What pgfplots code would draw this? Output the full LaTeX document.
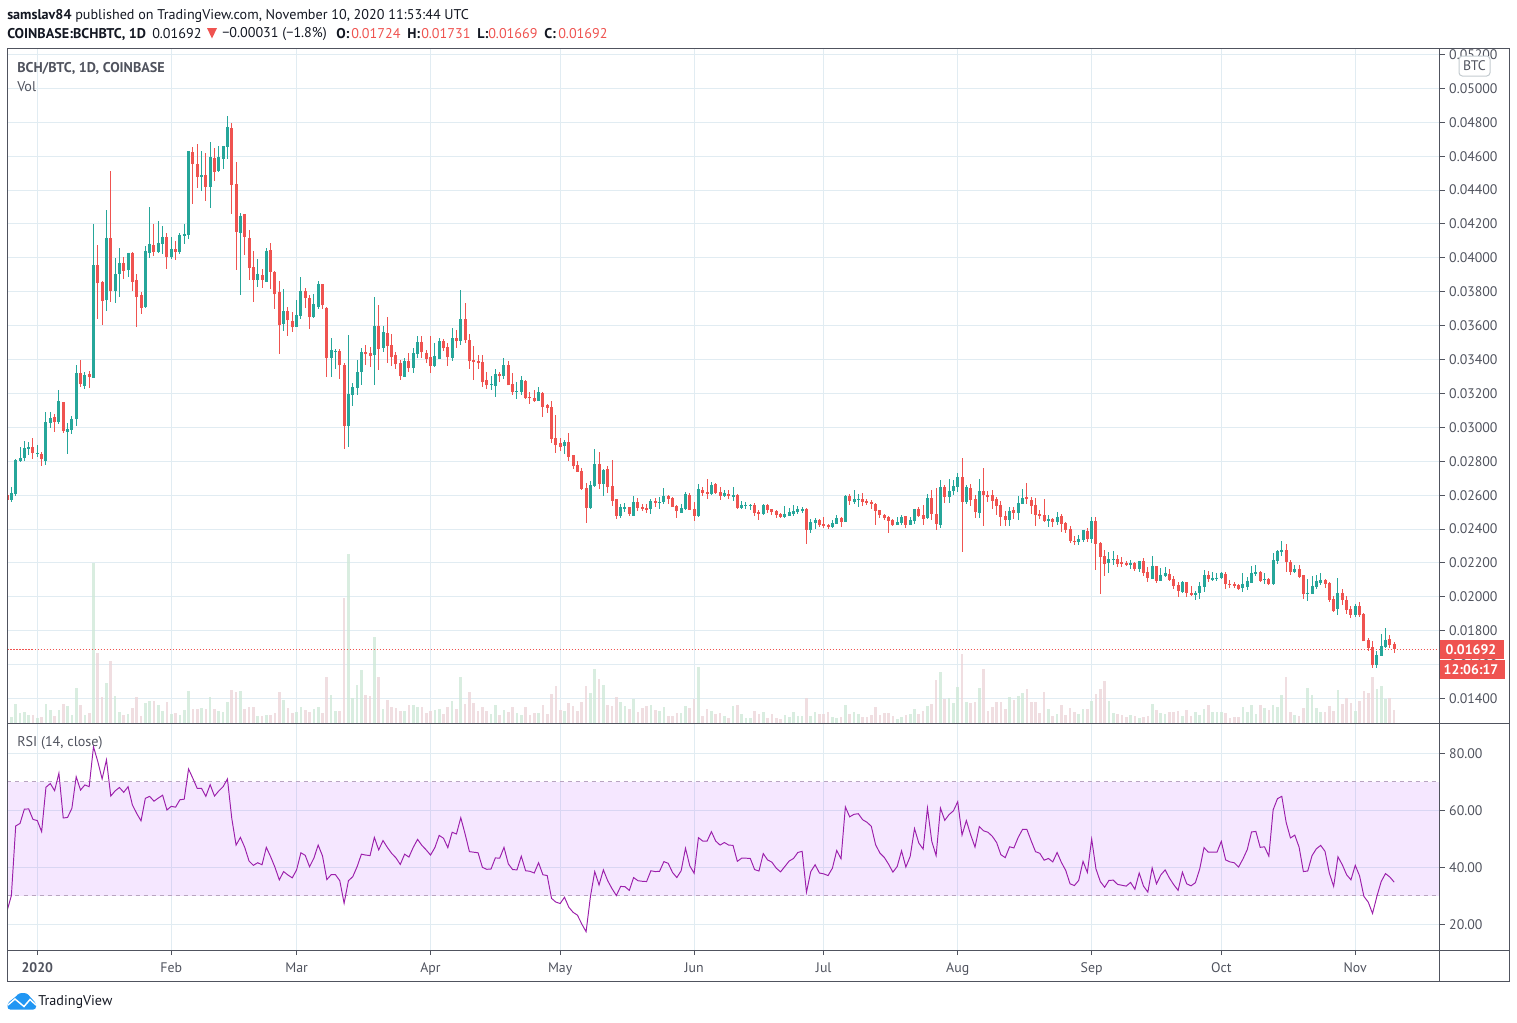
\documentclass[border=0pt]{standalone}
\usepackage{fontspec}
\setmainfont{PT Sans}
\usepackage{pgfplots}
\usepackage{pgfplotstable}
\pgfplotsset{compat=1.18}
\definecolor{cg}{HTML}{26A69A}
\definecolor{cr}{HTML}{EF5350}
\definecolor{vg}{HTML}{CFE9D8}
\definecolor{vr}{HTML}{ECD6DA}
\definecolor{gridc}{HTML}{E1ECF2}
\definecolor{axc}{HTML}{50535E}
\definecolor{txt}{HTML}{131722}
\definecolor{rsi}{HTML}{9C1FAB}
\definecolor{band}{HTML}{9915FF}
\definecolor{dash}{HTML}{B8A5C0}
\definecolor{tvblue}{HTML}{2196F3}
% d = days from 1 Jan 2020; o h l c in units of 0.001 BTC; v = relative volume (no scale is shown)
\pgfplotstableread{
d o h l c v
-7 26.02 26.02 25.72 25.72 4
-6 25.72 26.49 25.62 26.13 6
-5 26.07 28.13 25.98 28.07 19
-4 28.02 28.84 27.96 28.19 10
-3 28.19 29.19 28.02 28.78 11
-2 28.72 29.13 28.37 28.84 8
-1 28.84 29.37 28.13 28.49 8
0 28.43 28.96 28.25 28.49 5
1 28.43 28.55 27.72 28.13 6
2 28.02 30.90 27.78 30.31 19
3 30.25 30.90 29.96 30.55 13
4 30.60 30.78 29.72 30.31 7
5 30.31 32.19 30.19 31.55 13
6 31.49 31.49 29.66 29.78 19
7 29.72 30.25 28.43 29.90 17
8 29.84 30.66 29.60 30.49 8
9 30.49 33.66 30.07 33.19 35
10 33.19 33.96 32.37 32.55 18
11 32.43 33.25 32.25 33.07 8
12 33.13 33.31 32.31 32.96 10
13 32.90 42.02 32.90 39.55 160
14 39.55 40.78 36.37 38.49 70
15 38.55 38.66 36.02 37.43 26
16 37.49 42.84 36.84 41.19 40
17 41.19 45.13 37.37 38.07 62
18 38.07 40.02 37.31 39.02 27
19 39.07 40.60 37.72 39.72 11
20 39.72 40.07 38.78 39.25 8
21 39.31 40.31 38.90 40.31 9
22 40.31 40.37 38.02 38.60 15
23 38.72 39.02 35.90 37.72 26
24 37.78 37.96 36.66 37.07 7
25 37.13 40.72 37.07 40.43 20
26 40.31 43.02 40.02 40.84 22
27 40.78 42.02 40.13 40.37 22
28 40.37 42.19 40.31 40.90 18
29 40.84 41.90 40.25 41.25 12
30 41.25 41.49 39.37 40.07 21
31 40.07 41.25 39.96 40.55 9
32 40.55 41.02 39.90 40.37 10
33 40.37 41.49 40.25 41.37 8
34 41.31 42.02 40.84 41.43 13
35 41.37 46.31 41.13 46.31 32
36 46.25 46.55 43.19 45.55 14
37 45.55 46.72 44.13 44.78 14
38 44.78 46.31 43.96 44.90 15
39 44.90 46.19 43.37 44.19 14
40 44.19 46.84 42.96 45.96 26
41 45.90 46.49 44.55 45.07 14
42 45.13 46.60 45.07 45.96 12
43 45.84 46.60 45.25 46.60 11
44 46.55 48.37 45.84 47.72 21
45 47.66 47.96 42.60 44.31 33
46 44.37 45.66 39.31 41.55 31
47 41.49 42.66 37.78 42.49 32
48 42.60 42.60 40.19 41.25 14
49 41.19 41.66 38.72 39.43 16
50 39.49 40.43 37.37 38.72 16
51 38.72 39.96 38.31 39.07 7
52 38.96 39.37 38.25 38.72 7
53 38.60 40.60 38.55 40.43 8
54 40.49 40.90 38.19 39.19 8
55 39.19 39.25 36.96 37.84 10
56 37.96 38.66 34.31 36.02 31
57 36.07 38.19 35.66 36.84 23
58 36.84 37.13 35.37 36.31 15
59 36.25 36.78 35.60 35.90 10
60 35.90 37.49 35.90 36.60 11
61 36.55 38.90 36.37 38.07 16
62 38.07 38.25 37.02 37.66 13
63 37.66 37.78 35.78 36.49 11
64 36.49 37.84 36.43 37.25 14
65 37.13 38.66 36.96 38.43 16
66 38.43 38.43 36.96 37.19 10
67 37.07 37.13 32.96 34.07 46
68 34.07 35.25 32.96 34.55 28
69 34.43 34.60 33.43 34.49 12
70 34.49 34.60 32.84 33.66 12
71 33.66 33.78 28.72 30.07 125
72 30.07 35.43 28.84 31.96 169
73 31.90 32.60 31.25 32.37 25
74 32.31 33.96 31.90 33.25 38
75 33.25 34.66 32.48 34.43 53
76 34.43 34.84 33.66 34.31 28
77 34.37 34.72 33.54 34.19 27
78 34.25 37.72 32.48 35.96 86
79 35.96 37.19 33.37 34.60 46
80 34.66 35.96 34.43 35.60 14
81 35.54 36.54 33.78 34.78 23
82 34.84 35.48 33.60 34.13 16
83 34.25 34.43 33.43 33.72 15
84 33.78 33.96 32.78 33.01 12
85 32.96 34.07 32.96 33.90 12
86 33.90 34.37 33.25 33.48 18
87 33.48 34.66 33.19 34.37 18
88 34.31 35.37 34.07 35.01 16
89 35.01 35.37 34.07 34.43 16
90 34.37 34.54 33.78 34.01 10
91 34.13 35.37 33.19 33.60 12
92 33.60 34.96 33.54 34.19 13
93 34.01 35.25 34.01 35.07 14
94 35.07 35.19 34.48 34.66 9
95 34.72 34.96 33.60 34.13 16
96 34.07 35.84 33.90 35.25 22
97 35.25 35.72 34.66 35.07 14
98 35.07 38.13 34.84 36.37 46
99 36.37 37.31 34.96 35.13 19
100 35.13 35.48 33.43 33.90 31
101 33.96 34.78 32.78 33.84 20
102 33.90 34.25 33.43 33.78 12
103 33.84 34.25 32.37 32.66 16
104 32.78 33.25 32.25 32.48 12
105 32.48 33.01 32.19 32.54 9
106 32.43 33.43 31.78 33.13 18
107 33.13 33.25 32.66 33.01 8
108 33.01 34.07 32.84 33.66 13
109 33.66 33.90 32.48 32.48 11
110 32.54 33.19 31.90 32.07 16
111 32.07 32.66 31.66 32.13 10
112 32.07 33.01 31.90 32.78 8
113 32.72 32.78 31.66 31.72 16
114 31.78 32.07 31.37 31.72 8
115 31.72 32.19 31.48 31.54 10
116 31.54 32.37 31.54 32.07 10
117 32.01 32.07 30.60 31.19 18
118 31.31 31.37 30.84 31.13 9
119 31.19 31.54 29.07 29.31 29
120 29.37 30.72 28.48 28.96 37
121 29.07 29.37 28.60 28.84 13
122 28.90 29.25 28.43 29.13 12
123 29.13 29.66 28.01 28.25 20
124 28.37 28.37 27.54 27.72 17
125 27.78 28.01 27.37 27.37 12
126 27.43 27.60 26.31 26.37 21
127 26.43 26.72 24.37 25.25 37
128 25.25 26.84 25.19 26.60 30
129 26.54 28.72 26.48 27.84 54
130 27.84 28.54 26.37 26.66 44
131 26.66 27.54 25.96 27.48 38
132 27.54 27.72 26.13 26.48 18
133 26.54 28.07 25.37 25.66 17
134 25.78 25.78 24.60 24.78 26
135 24.78 25.48 24.66 25.31 21
136 25.19 25.54 25.01 25.31 17
137 25.31 25.31 24.78 24.90 14
138 24.78 25.96 24.78 25.60 24
139 25.60 25.84 25.07 25.25 11
140 25.31 25.48 25.07 25.19 15
141 25.25 25.48 24.96 25.13 17
142 25.19 25.78 24.90 25.66 18
143 25.66 25.84 25.31 25.54 13
144 25.54 25.90 25.19 25.58 12
145 25.60 26.43 25.48 25.96 16
146 25.96 26.01 25.48 25.78 7
147 25.84 25.90 25.31 25.31 7
148 25.37 25.43 24.66 25.07 10
149 24.96 25.49 24.96 25.25 10
150 25.19 26.19 25.13 26.07 17
151 26.01 26.13 25.13 25.13 15
152 25.19 25.60 24.49 24.78 24
153 24.78 26.66 24.72 26.37 56
154 26.31 26.49 25.96 26.13 7
155 26.19 26.96 25.78 26.07 14
156 26.07 26.78 26.01 26.60 12
157 26.66 26.72 26.07 26.13 9
158 26.19 26.49 25.72 25.96 10
159 25.96 26.31 25.90 26.13 7
160 26.07 26.31 25.78 25.96 5
161 25.90 26.49 25.66 26.01 17
162 26.01 26.07 25.19 25.25 18
163 25.25 25.66 25.19 25.43 9
164 25.37 25.60 25.19 25.43 5
165 25.37 25.49 25.13 25.43 5
166 25.43 25.54 24.78 24.96 12
167 25.01 25.13 24.54 24.90 9
168 24.90 25.49 24.84 25.43 11
169 25.43 25.49 24.96 25.13 5
170 25.19 25.19 24.84 25.01 9
171 25.07 25.13 24.66 24.84 5
172 24.90 24.96 24.66 24.72 4
173 24.72 25.37 24.66 24.90 8
174 24.78 25.25 24.78 25.01 6
175 24.90 25.43 24.78 25.07 11
176 25.01 25.37 24.90 25.19 7
177 25.07 25.31 24.96 25.19 7
178 25.19 25.25 23.13 23.96 25
179 23.96 24.60 23.78 24.43 7
180 24.37 24.66 24.01 24.54 11
181 24.54 24.60 24.13 24.25 9
182 24.31 24.72 24.07 24.19 9
183 24.25 24.31 24.01 24.13 11
184 24.13 24.54 24.07 24.37 6
185 24.31 24.84 24.31 24.66 5
186 24.66 24.72 24.13 24.43 6
187 24.43 26.01 24.43 25.96 18
188 25.96 26.07 25.43 25.66 9
189 25.60 26.31 25.49 25.78 11
190 25.72 26.07 25.31 25.78 9
191 25.78 26.13 25.37 25.60 6
192 25.66 25.78 25.43 25.54 6
193 25.60 25.72 25.19 25.49 8
194 25.49 25.54 24.25 25.07 16
195 25.13 25.13 24.66 24.84 8
196 24.84 24.90 24.54 24.66 10
197 24.72 24.78 23.78 24.49 10
198 24.54 24.60 24.19 24.25 7
199 24.25 24.72 24.25 24.43 4
200 24.37 24.84 24.25 24.72 6
201 24.78 24.78 24.07 24.25 8
202 24.25 24.72 24.25 24.54 9
203 24.49 25.19 24.31 25.19 14
204 25.19 25.31 24.72 24.78 9
205 24.84 25.43 24.25 24.60 12
206 24.66 26.07 24.60 25.84 17
207 25.84 26.31 24.54 24.90 19
208 24.90 26.43 23.96 24.31 43
209 24.25 26.90 24.07 26.49 51
210 26.49 26.60 25.54 25.90 24
211 25.90 26.96 25.54 26.25 25
212 26.25 26.90 26.01 26.54 20
213 26.49 27.31 26.19 27.07 36
214 27.07 28.19 22.66 25.60 69
215 25.60 26.60 25.49 26.49 21
216 26.43 26.66 25.37 25.72 20
217 25.78 26.01 24.66 25.01 21
218 24.96 26.96 24.66 26.25 35
219 26.25 27.60 24.19 26.01 54
220 26.01 26.25 25.60 25.90 12
221 26.01 26.31 25.19 25.66 16
222 25.78 25.90 24.84 25.37 21
223 25.43 25.66 24.19 24.72 21
224 24.78 25.07 24.19 24.54 14
225 24.54 25.31 24.19 25.07 26
226 25.13 25.31 24.60 24.96 23
227 24.96 25.96 24.54 25.54 27
228 25.49 26.37 25.49 25.84 30
229 25.90 26.72 25.49 25.78 34
230 25.72 25.92 24.90 25.37 21
231 25.43 25.84 24.19 24.84 21
232 24.90 25.13 24.60 24.78 10
233 24.84 25.78 24.43 24.48 31
234 24.48 24.84 24.13 24.60 14
235 24.60 24.66 24.13 24.43 7
236 24.43 25.01 24.25 24.72 9
237 24.78 24.90 23.84 24.31 18
238 24.37 24.43 23.78 23.96 8
239 24.01 24.19 23.19 23.31 15
240 23.31 23.60 23.07 23.25 11
241 23.25 23.66 23.07 23.43 9
242 23.37 23.96 23.25 23.96 14
243 23.90 24.07 23.25 23.43 14
244 23.43 24.72 23.19 24.48 22
245 24.48 24.72 21.60 23.13 29
246 23.19 23.25 20.19 22.37 34
247 22.43 22.78 21.25 21.96 42
248 22.01 22.66 21.43 22.25 22
249 22.19 22.72 21.90 22.25 10
250 22.25 22.48 21.78 21.96 9
251 22.07 22.37 21.78 21.96 8
252 22.01 22.13 21.84 21.90 6
253 21.90 22.19 21.66 22.01 8
254 22.01 22.07 21.54 21.66 7
255 21.66 22.13 21.48 22.13 5
256 22.13 22.31 21.25 21.43 6
257 21.48 21.78 20.90 21.13 7
258 21.07 22.43 21.07 21.84 19
259 21.84 21.84 20.84 20.96 13
260 20.96 21.72 20.96 21.31 10
261 21.25 21.78 21.19 21.43 9
262 21.37 21.66 20.96 21.01 11
263 21.07 21.25 20.48 20.66 11
264 20.72 20.90 20.01 20.37 12
265 20.31 20.96 20.25 20.90 7
266 20.90 20.90 20.01 20.25 13
267 20.25 20.66 20.07 20.13 7
268 20.13 20.37 19.84 20.25 11
269 20.25 20.90 19.90 20.66 8
270 20.60 21.60 20.31 21.31 14
271 21.31 21.54 20.90 21.07 18
272 21.01 21.48 20.96 21.13 11
273 21.07 21.43 20.96 21.13 11
274 21.13 21.48 21.07 21.43 11
275 21.37 21.48 20.48 20.78 10
276 20.78 21.01 20.54 20.72 5
277 20.78 20.90 20.54 20.66 6
278 20.72 20.78 20.43 20.48 6
279 20.54 21.43 20.31 20.78 16
280 20.60 21.19 20.43 20.96 11
281 20.84 21.84 20.84 21.43 18
282 21.37 21.90 21.25 21.48 9
283 21.48 21.54 20.90 20.96 18
284 21.01 21.43 20.78 21.07 15
285 21.07 21.13 20.72 20.78 13
286 20.78 22.60 20.72 22.19 18
287 22.13 22.78 21.96 22.72 16
288 22.66 23.31 22.43 22.78 28
289 22.78 23.13 21.48 22.07 46
290 22.07 22.19 21.31 21.48 11
291 21.48 21.90 21.43 21.66 8
292 21.66 21.90 21.13 21.19 7
293 21.31 21.31 19.90 20.19 15
294 20.19 21.07 19.78 20.25 35
295 20.19 21.25 20.19 20.66 28
296 20.60 21.31 20.48 20.96 15
297 20.84 21.43 20.72 21.01 11
298 21.01 21.07 20.54 20.78 11
299 20.84 20.90 19.72 19.84 17
300 19.90 20.07 19.13 19.19 12
301 19.31 21.13 18.96 20.25 33
302 20.25 20.48 19.54 19.84 19
303 19.84 20.07 19.01 19.25 25
304 19.31 19.48 18.78 18.96 20
305 18.96 19.60 18.84 19.48 12
306 19.48 19.72 18.84 18.96 22
307 19.01 19.07 17.37 17.37 32
308 17.43 17.60 16.78 17.01 30
309 17.07 17.37 15.78 15.96 46
310 15.96 16.78 15.78 16.60 34
311 16.54 17.84 16.54 17.13 37
312 17.07 18.19 16.96 17.48 24
313 17.54 17.78 16.96 17.19 25
314 17.24 17.31 16.69 16.92 13
}\ohlc
\pgfplotsset{
  pane/.style={scale only axis, width=1074pt, xmin=-6.9, xmax=324.5, clip=true,
    axis line style={draw=none},
    xtick={0,31,60,91,121,152,182,213,244,274,305},
    grid=major, major grid style={color=gridc, line width=.75pt},
    ytick pos=right, tick align=outside, major tick length=3.75pt,
    tick style={color=axc, line width=.75pt},
    tick label style={color=axc, font=\fontsize{10.4}{12}\selectfont},
    yticklabel style={anchor=west, xshift=0pt},
    xtick pos=bottom},
  over/.style={scale only axis, width=1074pt, xmin=-6.9, xmax=324.5, hide axis, clip=true}
}
\begin{document}
\begin{tikzpicture}
\path[use as bounding box] (0pt,0pt) rectangle (1137.75pt,-766.5pt);

% price pane: grid and price ticks
\begin{axis}[pane, at={(5.625pt,-542.25pt)}, anchor=south west, height=505.875pt,
  ymin=12.56, ymax=52.35,
  xticklabels={}, xtick style={draw=none},
  ytick={14,16,18,20,22,24,26,28,30,32,34,36,38,40,42,44,46,48,50,52},
  yticklabels={0.01400,0.01600,0.01800,0.02000,0.02200,0.02400,0.02600,0.02800,0.03000,0.03200,0.03400,0.03600,0.03800,0.04000,0.04200,0.04400,0.04600,0.04800,0.05000,0.05200}]
\end{axis}

% volume
\begin{axis}[over, at={(5.625pt,-542.25pt)}, anchor=south west, height=505.875pt, ymin=0, ymax=674.5]
\addplot[ycomb, unbounded coords=discard, draw=vg, line width=2pt, opacity=.8, mark=none]
  table[x expr={\thisrow{c}>=\thisrow{o} ? \thisrow{d} : nan}, y=v] {\ohlc};
\addplot[ycomb, unbounded coords=discard, draw=vr, line width=2pt, opacity=.8, mark=none]
  table[x expr={\thisrow{c}<\thisrow{o} ? \thisrow{d} : nan}, y=v] {\ohlc};
\end{axis}

% candles
\begin{axis}[over, at={(5.625pt,-542.25pt)}, anchor=south west, height=505.875pt, ymin=12.56, ymax=52.35]
\addplot[color=cr, dash pattern=on .9pt off 1.35pt, line width=.75pt, mark=none] coordinates {(-6.9,16.92)(324.5,16.92)};
% wicks
\addplot[draw=none, mark=none, unbounded coords=discard, error bars/.cd, y dir=both, y explicit, error mark=none,
    error bar style={draw=cg, line width=.75pt}]
  table[x expr={\thisrow{c}>=\thisrow{o} ? \thisrow{d} : nan}, y=c,
        y error plus expr=\thisrow{h}-\thisrow{c}, y error minus expr=\thisrow{c}-\thisrow{l}] {\ohlc};
\addplot[draw=none, mark=none, unbounded coords=discard, error bars/.cd, y dir=both, y explicit, error mark=none,
    error bar style={draw=cr, line width=.75pt}]
  table[x expr={\thisrow{c}<\thisrow{o} ? \thisrow{d} : nan}, y=c,
        y error plus expr=\thisrow{h}-\thisrow{c}, y error minus expr=\thisrow{c}-\thisrow{l}] {\ohlc};
% bodies
\addplot[draw=none, mark=none, unbounded coords=discard, error bars/.cd, y dir=minus, y explicit, error mark=none,
    error bar style={draw=cg, line width=2.25pt}]
  table[x expr={\thisrow{c}>=\thisrow{o} ? \thisrow{d} : nan}, y=c,
        y error minus expr=\thisrow{c}-\thisrow{o}] {\ohlc};
\addplot[draw=none, mark=none, unbounded coords=discard, error bars/.cd, y dir=plus, y explicit, error mark=none,
    error bar style={draw=cr, line width=2.25pt}]
  table[x expr={\thisrow{c}<\thisrow{o} ? \thisrow{d} : nan}, y=c,
        y error plus expr=\thisrow{o}-\thisrow{c}] {\ohlc};
\end{axis}

% RSI pane
\begin{axis}[pane, at={(5.625pt,-712.5pt)}, anchor=south west, height=170.25pt,
  ymin=10.98, ymax=90.63,
  xticklabels={\textbf{2020},Feb,Mar,Apr,May,Jun,Jul,Aug,Sep,Oct,Nov},
  xticklabel style={yshift=-2.5pt},
  ytick={20,40,60,80}, yticklabels={20.00,40.00,60.00,80.00}]
\addplot[draw=none, fill=band, fill opacity=.1, forget plot] coordinates {(-6.9,30)(-6.9,70)(324.5,70)(324.5,30)} --cycle;
\addplot[color=dash, dashed, line width=.75pt, mark=none] coordinates {(-6.9,70)(324.5,70)};
\addplot[color=dash, dashed, line width=.75pt, mark=none] coordinates {(-6.9,30)(324.5,30)};
\addplot[color=rsi, line width=.72pt, mark=none] coordinates {
(-7,24.7)(-6,30.1)(-5,54.5)(-4,55.4)(-3,60.4)(-2,60.5)(-1,56.8)(0,56.4)(1,52.5)(2,68.1)
(3,69.4)(4,66.9)(5,73)(6,57.3)(7,57.5)(8,60.7)(9,71.8)(10,67.1)(11,68.9)(12,68.3)
(13,82.3)(14,77.1)(15,71)(16,77.7)(17,65)(18,66.8)(19,68)(20,66.3)(21,68.3)(22,61.9)
(23,58.9)(24,56.3)(25,64.2)(26,64.9)(27,63.2)(28,64.3)(29,65.3)(30,60.1)(31,61.4)(32,61.1)
(33,63.7)(34,63.9)(35,74.5)(36,71.2)(37,67.7)(38,67.7)(39,64.9)(40,69)(41,65)(42,66.8)
(43,68.3)(44,71)(45,57.2)(46,47.8)(47,50.5)(48,47)(49,42.2)(50,40.7)(51,41.6)(52,40.9)
(53,47)(54,43.7)(55,40)(56,35.6)(57,38.5)(58,37.3)(59,36.3)(60,39.1)(61,45.1)(62,44.2)
(63,40.2)(64,43.2)(65,47.8)(66,44)(67,35.7)(68,37.4)(69,37.4)(70,35.3)(71,27.4)(72,35.3)
(73,36.7)(74,40.2)(75,44.6)(76,44.3)(77,44.1)(78,50.5)(79,46.1)(80,49.4)(81,47)(82,44.9)
(83,43.3)(84,41)(85,44.6)(86,43.6)(87,47)(88,49.8)(89,47.7)(90,46.1)(91,44.3)(92,46.9)
(93,51.2)(94,50.2)(95,46.9)(96,52.3)(97,51.7)(98,57.4)(99,51.7)(100,45.5)(101,45.3)(102,45.1)
(103,40)(104,39.3)(105,39.4)(106,43.3)(107,43.2)(108,47)(109,41.2)(110,39.2)(111,39.1)(112,43.9)
(113,38.8)(114,38.6)(115,38)(116,41.6)(117,37.4)(118,37.1)(119,29.1)(120,27.8)(121,27.3)(122,29.5)
(123,26)(124,24.2)(125,23.2)(126,20.1)(127,17.4)(128,29.7)(129,38.5)(130,33.8)(131,39.1)(132,35.3)
(133,32.5)(134,30.1)(135,33.3)(136,33.2)(137,31.9)(138,36.4)(139,35.3)(140,35.1)(141,35)(142,38.8)
(143,38.5)(144,38.6)(145,42)(146,41.4)(147,38.2)(148,36.4)(149,38.8)(150,46.7)(151,40.5)(152,37.9)
(153,50.4)(154,49.2)(155,49.2)(156,52.5)(157,49.2)(158,47.8)
(159,48.7)(160,47.8)(161,47.7)(162,42.1)(163,43.2)(164,43.2)(165,43.1)(166,39.2)(167,38.7)(168,44.8)
(169,42.6)(170,41.8)(171,39.7)(172,38.4)(173,40.3)(174,42.2)(175,43.1)(176,45.2)(177,45.6)(178,31.3)
(179,38.5)(180,40.9)(181,38)(182,37.7)(183,37.1)(184,39.7)(185,45.9)(186,43)(187,61.2)(188,57.7)
(189,58.6)(190,58.8)(191,56.7)(192,55.8)(193,54.4)(194,47.9)(195,45)(196,43.5)(197,41.1)(198,38.3)
(199,40.3)(200,45.8)(201,40.1)(202,43.8)(203,53.6)(204,48.5)(205,46.4)(206,60.8)(207,49.1)(208,44.1)
(209,60.8)(210,56.5)(211,58.5)(212,59.8)(213,63)(214,51.3)(215,56.4)(216,51.4)(217,47.1)(218,54.3)
(219,52.8)(220,52.3)(221,50.9)(222,48.7)(223,44.4)(224,43.4)(225,47.2)(226,46.8)(227,50.5)(228,53.3)
(229,53.3)(230,49.3)(231,45.5)(232,44.9)(233,42.5)(234,43.1)(235,41.9)(236,45.2)(237,41.7)(238,38.9)
(239,34.2)(240,33.6)(241,35.4)(242,42.1)(243,38.2)(244,49.9)(245,39.4)(246,35)(247,33)(248,35.4)
(249,35.5)(250,34)(251,33.7)(252,33.4)(253,34.7)(254,32.3)(255,38)(256,33.4)(257,31.3)(258,39.8)
(259,34.2)(260,37.3)(261,39.1)(262,36.2)(263,33.9)(264,31.9)(265,38.3)(266,34.2)(267,33.5)(268,34.6)
(269,39.4)(270,46.9)(271,45.3)(272,45.3)(273,45.3)(274,49.1)(275,42.6)(276,41.9)(277,41.6)(278,40.1)
(279,42.9)(280,46.2)(281,52.4)(282,52.6)(283,47)(284,47.2)(285,43.9)(286,60.2)(287,64.1)(288,64.9)
(289,55.8)(290,50.3)(291,51.3)(292,47.1)(293,38.5)(294,38.7)(295,44.1)(296,46.5)(297,47.7)(298,45.6)
(299,38)(300,33.3)(301,43.7)(302,40.9)(303,37.4)(304,35.6)(305,40.7)(306,37)(307,29.8)(308,27.8)
(309,23.8)(310,29.8)(311,35)(312,37.8)(313,36.6)(314,34.8)};
\end{axis}

\begin{scope}[x=.75pt,y=.75pt]
% frame
\draw[axc, line width=.75pt] (7.5,-48.5) rectangle (1509.5,-981);
\draw[axc, line width=.75pt] (7.5,-723) -- (1509.5,-723);
\draw[axc, line width=.75pt] (7.5,-950) -- (1509.5,-950);
\draw[axc, line width=.75pt] (1439.5,-48.5) -- (1439.5,-981);

% header
\tikzset{lab/.style={anchor=west, inner sep=0pt, font=\fontsize{10.6}{12}\selectfont}}
\node[lab, txt] at (7,-15.5) {\textbf{samslav84} published on TradingView.com, November 10, 2020 11:53:44 UTC};
\node[lab, txt] at (7,-34) {\textbf{COINBASE:BCHBTC, 1D}};
\node[lab, txt] at (152,-34) {0.01692};
\fill[cr] (207,-28) -- (217,-28) -- (212,-38.5) -- cycle;
\node[lab, txt] at (222,-34) {−0.00031 (−1.8\%)};
\node[lab, txt] at (336,-34) {\textbf{O:}};
\node[lab, cr] at (351,-34) {0.01724};
\node[lab, txt] at (407,-34) {\textbf{H:}};
\node[lab, cr] at (421,-34) {0.01731};
\node[lab, txt] at (477,-34) {\textbf{L:}};
\node[lab, cr] at (488,-34) {0.01669};
\node[lab, txt] at (544,-34) {\textbf{C:}};
\node[lab, cr] at (558,-34) {0.01692};
% pane legends
\node[lab, axc] at (17,-68) {\textbf{BCH/BTC, 1D, COINBASE}};
\node[lab, axc] at (17,-87) {Vol};
\node[lab, axc] at (17,-743.5) {RSI (14, close)};
% BTC badge
\draw[draw=gridc!70!gray, fill=white, rounded corners=2.5pt, line width=.75pt] (1459,-56) rectangle (1490,-76);
\node[axc, inner sep=0pt, font=\fontsize{10.4}{12}\selectfont] at (1474.5,-66) {BTC};
% last price and countdown
\fill[cr] (1440,-640) rectangle (1504,-659);
\node[white, inner sep=0pt, font=\fontsize{10.4}{12}\selectfont\bfseries] at (1471,-649.5) {0.01692};
\fill[cr] (1440,-660) rectangle (1505,-679);
\node[white, inner sep=0pt, font=\fontsize{10.4}{12}\selectfont\bfseries] at (1471,-669.5) {12:06:17};
% logo
\fill[tvblue, rounded corners=2pt] (7.5,-1009.5) -- (7.5,-1003) -- (16,-996.5) -- (19,-993) -- (27,-993) -- (31,-998) -- (36,-1003) -- (36,-1009.5) -- cycle;
\draw[white, line width=1.1pt] (8,-1005) -- (15,-999) -- (24,-1006.5) -- (30,-999.5) -- (36,-1005);
\node[lab, txt] at (38,-1002) {\fontsize{10.6}{12}\selectfont TradingView};
\end{scope}
\end{tikzpicture}
\end{document}
